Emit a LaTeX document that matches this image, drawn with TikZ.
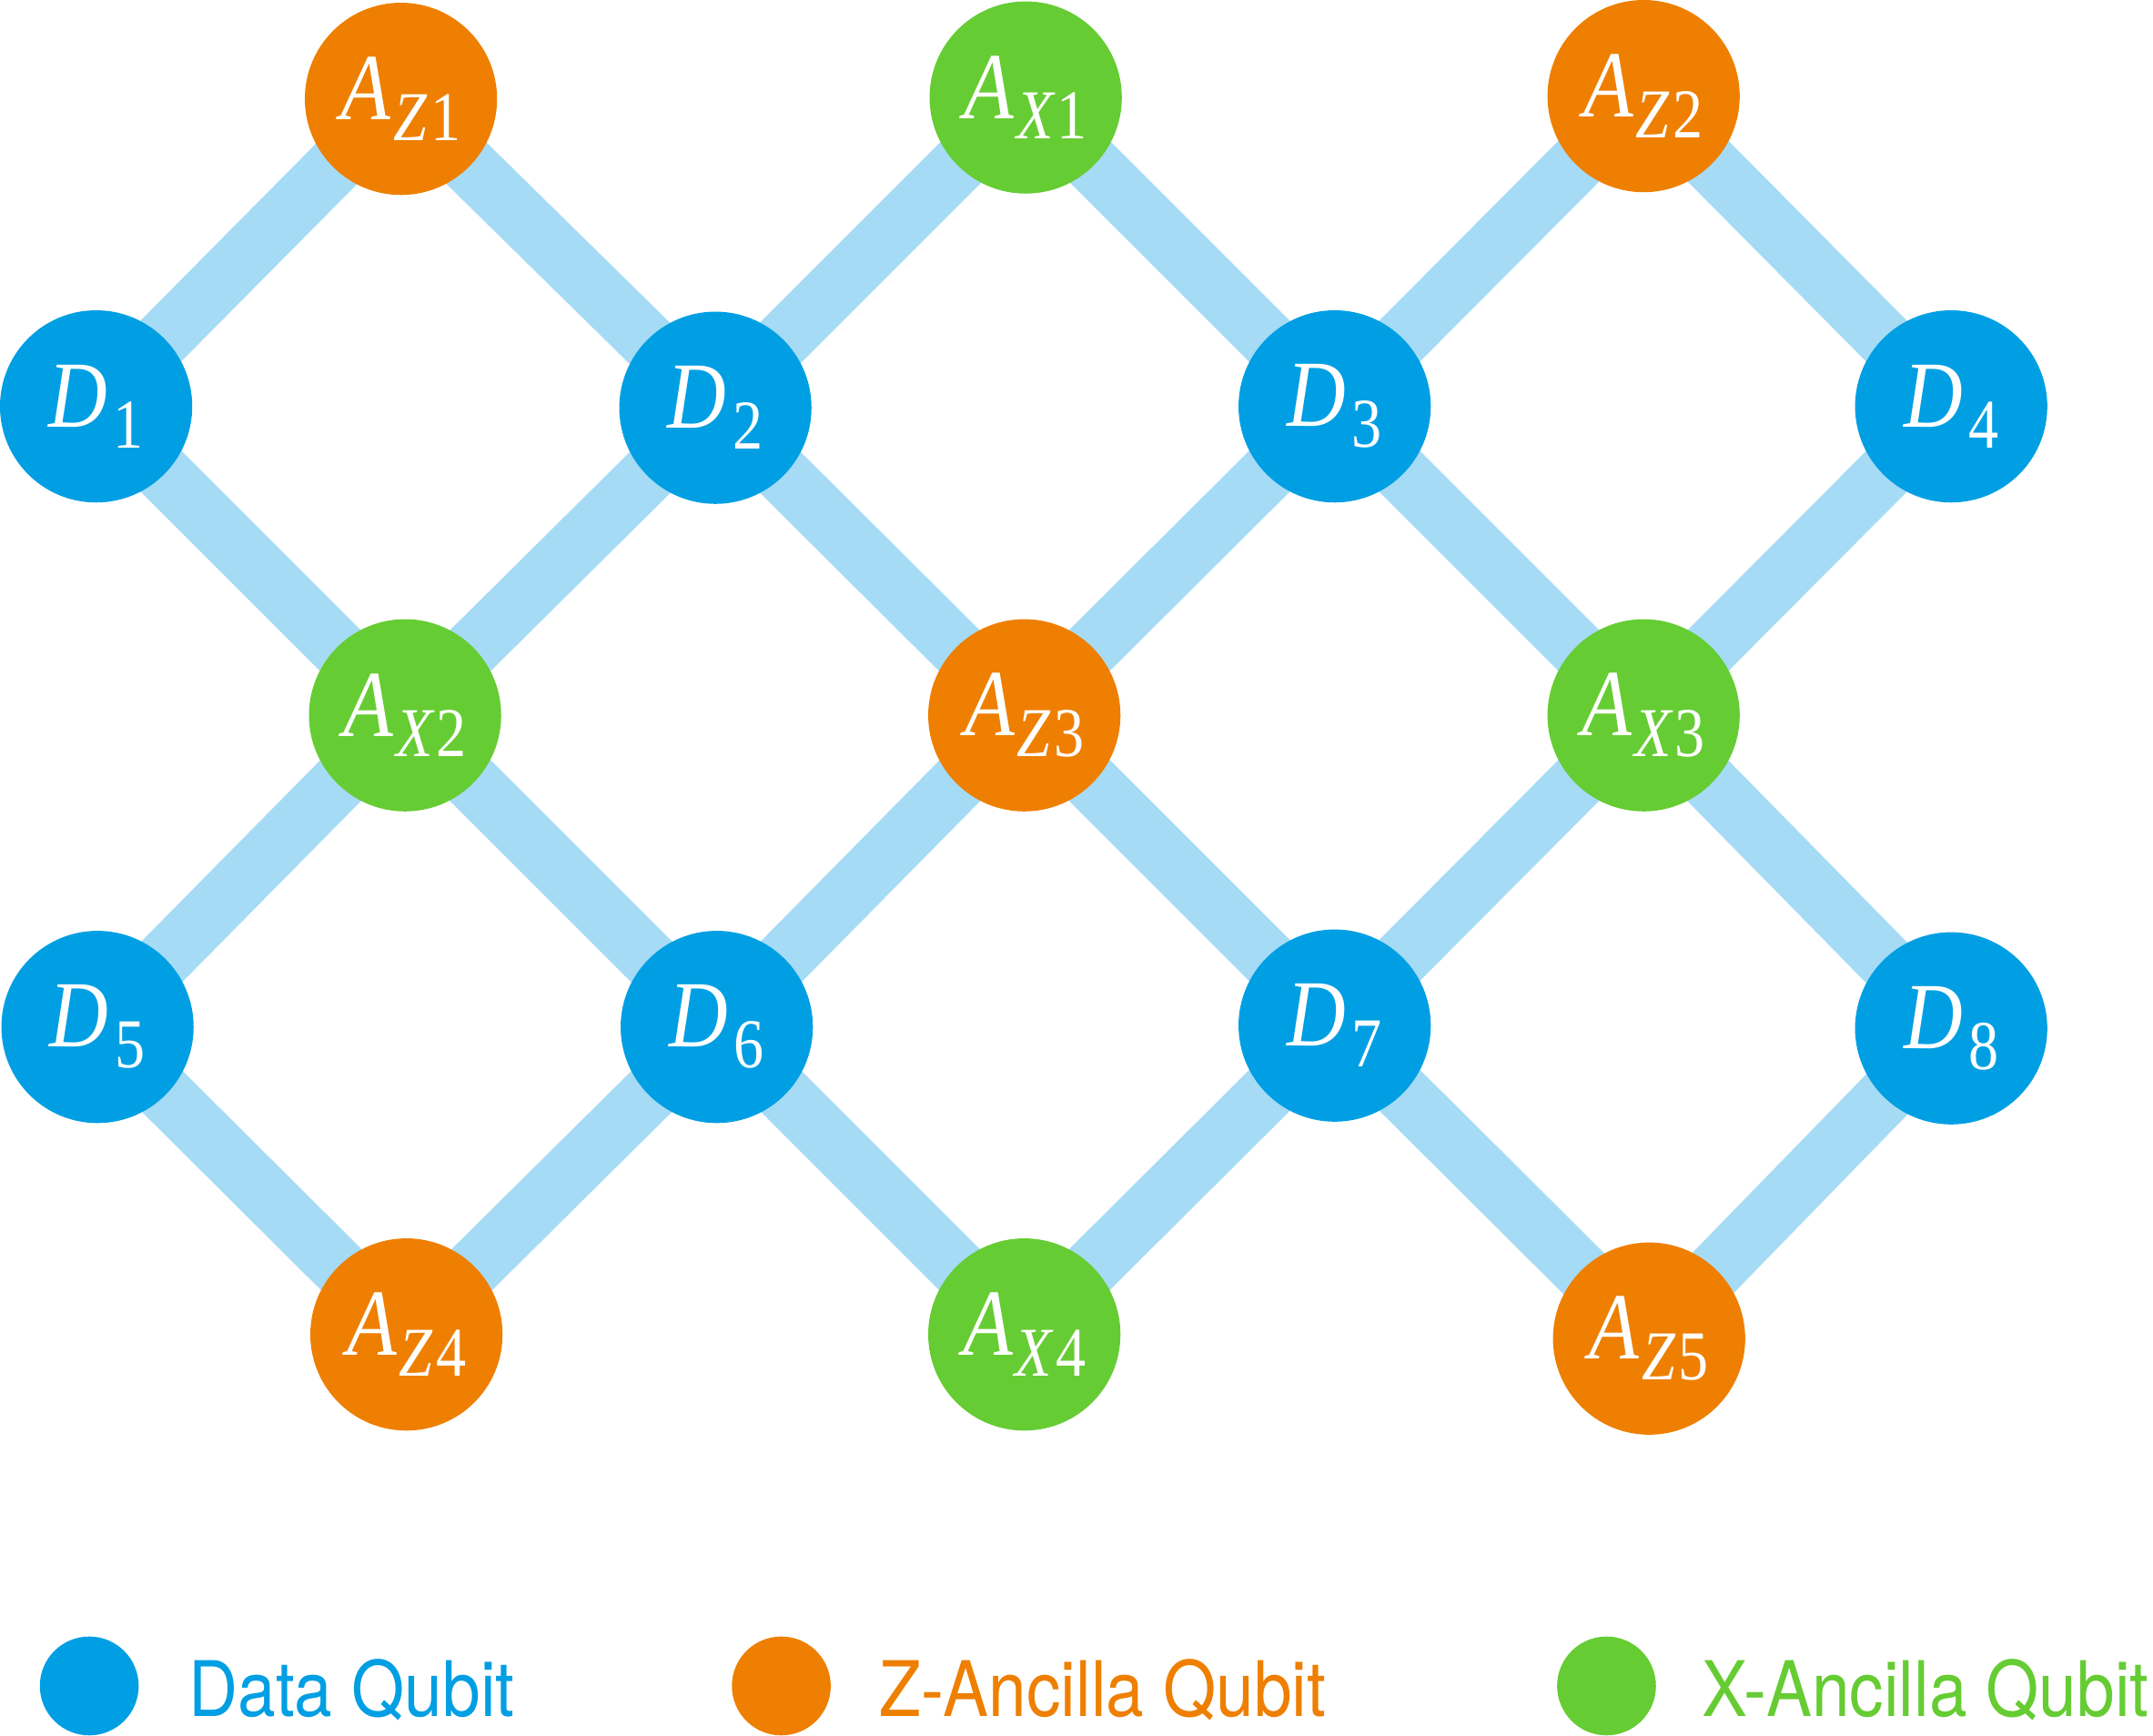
\documentclass[tikz,border=0pt]{standalone}
\usepackage{fontspec}
\usepackage{graphicx}
\newfontfamily\legendfont[FakeStretch=0.89]{TeX Gyre Heros}
\newfontfamily\labfont{Liberation Serif}
\usetikzlibrary{backgrounds}
\definecolor{dblue}{HTML}{009FE3}
\definecolor{zorange}{HTML}{EE7F00}
\definecolor{xgreen}{HTML}{66CC33}
\definecolor{edgeblue}{HTML}{A6DBF5}
% #1 main italic letter, #2 italic subscript letter (may be empty), #3 digit
\newcommand{\qlab}[3]{\scalebox{0.86}[1]{\labfont\itshape #1\kern0.03em\raisebox{-0.22em}{\fontsize{25.5}{28}\selectfont\itshape #2\kern0.06em\upshape #3}}}
\begin{document}
\begin{tikzpicture}[x=0.5pt,y=-0.5pt,
  qubit/.style={circle,minimum size=70pt,inner sep=0pt,text=white,font=\fontsize{34.5}{40}\selectfont},
  dataq/.style={qubit,fill=dblue},
  zanc/.style={qubit,fill=zorange},
  xanc/.style={qubit,fill=xgreen},
  coupler/.style={draw=edgeblue,line width=21pt},
  legdot/.style={circle,minimum size=36pt,inner sep=0pt},
  legtext/.style={anchor=base west,inner sep=0pt,font=\legendfont\fontsize{27.9}{32}\selectfont}]
\useasboundingbox (0,0) rectangle (1568,1264);
% qubits
\node[zanc] (az1) at (292,72) {\qlab{A}{Z}{1}};
\node[xanc] (ax1) at (747,71) {\qlab{A}{X}{1}};
\node[zanc] (az2) at (1197,70) {\qlab{A}{Z}{2}};
\node[dataq] (d1) at (70,296) {\qlab{D}{}{1}};
\node[dataq] (d2) at (521,297) {\qlab{D}{}{2}};
\node[dataq] (d3) at (972,296) {\qlab{D}{}{3}};
\node[dataq] (d4) at (1421,296) {\qlab{D}{}{4}};
\node[xanc] (ax2) at (295,521) {\qlab{A}{X}{2}};
\node[zanc] (az3) at (746,521) {\qlab{A}{Z}{3}};
\node[xanc] (ax3) at (1197,521) {\qlab{A}{X}{3}};
\node[dataq] (d5) at (71,748) {\qlab{D}{}{5}};
\node[dataq] (d6) at (522,748) {\qlab{D}{}{6}};
\node[dataq] (d7) at (972,747) {\qlab{D}{}{7}};
\node[dataq] (d8) at (1421,749) {\qlab{D}{}{8}};
\node[zanc] (az4) at (296,972) {\qlab{A}{Z}{4}};
\node[xanc] (ax4) at (746,972) {\qlab{A}{X}{4}};
\node[zanc] (az5) at (1201,975) {\qlab{A}{Z}{5}};
% couplers
\begin{scope}[on background layer]
\foreach \a/\b in {d1/az1,az1/d2,d2/ax1,ax1/d3,d3/az2,az2/d4,
                   d1/ax2,ax2/d2,d2/az3,az3/d3,d3/ax3,ax3/d4,
                   ax2/d5,ax2/d6,az3/d6,az3/d7,ax3/d7,ax3/d8,
                   d5/az4,az4/d6,d6/ax4,ax4/d7,d7/az5,az5/d8}
  \draw[coupler] (\a.center) -- (\b.center);
\end{scope}
% legend
\node[legdot,fill=dblue] (l1) at (65,1228) {};
\node[legtext,text=dblue] (t1) at (137,1250.5) {Data Qubit};
\node[legdot,fill=zorange] (l2) at (569,1228) {};
\node[legtext,text=zorange] (t2) at (640,1250.5) {Z-Ancilla Qubit};
\node[legdot,fill=xgreen] (l3) at (1170,1228) {};
\node[legtext,text=xgreen] (t3) at (1239,1250.5) {X-Ancilla Qubit};
\end{tikzpicture}
\end{document}
